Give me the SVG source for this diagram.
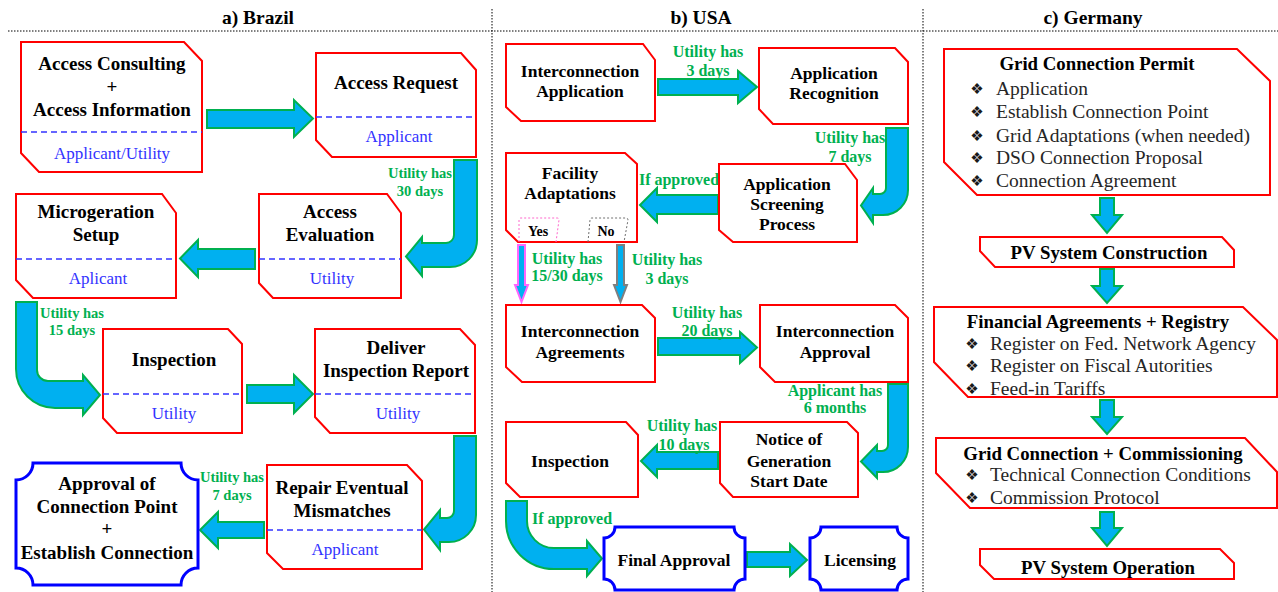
<svg xmlns="http://www.w3.org/2000/svg" width="1278" height="592" viewBox="0 0 1278 592">
<style>
text{font-family:"Liberation Serif","Times New Roman",serif;}
.t{font-weight:bold;font-size:19.5px;fill:#000;text-anchor:middle;}
.nb{font-weight:bold;font-size:19px;fill:#000;text-anchor:middle;}
.nu{font-weight:bold;font-size:17.5px;fill:#000;text-anchor:middle;}
.ng{font-weight:bold;font-size:18.8px;fill:#000;text-anchor:middle;}
.it{font-size:19.5px;fill:#262626;}
.bul{font-family:"DejaVu Sans",sans-serif;font-size:15px;fill:#1a1a1a;text-anchor:middle;}
.role{font-size:17px;fill:#3333ff;text-anchor:middle;}
.gb{font-weight:bold;font-size:14.5px;fill:#00b050;text-anchor:middle;}
.gu{font-weight:bold;font-size:16px;fill:#00b050;text-anchor:middle;}
.yn{font-weight:bold;font-size:14px;fill:#000;text-anchor:middle;}
.box{fill:#fff;stroke:#ff0000;stroke-width:2;stroke-linejoin:miter;}
.bbox{fill:#fff;stroke:#0000ff;stroke-width:3;}
.dash{stroke:#3333ff;stroke-width:1.3;stroke-dasharray:6,4;fill:none;}
.arr{fill:#00b0f0;stroke:#00b050;stroke-width:2;stroke-linejoin:miter;}
.sep{stroke:#000;stroke-width:1;stroke-dasharray:1.5,1.5;fill:none;}
</style>

<g id="separators">
<path class="sep" d="M8,31 H1278"/>
<path class="sep" d="M492,9 V592"/>
<path class="sep" d="M923,9 V592"/>
</g>
<g id="titles">
<text class="t" x="258" y="24">a) Brazil</text>
<text class="t" x="701" y="24">b) USA</text>
<text class="t" x="1093" y="24">c) Germany</text>
</g>

<g id="connectors">
<path class="arr" d="M207,110 H294 V100 L313,118.5 L294,137 V128 H207 Z"/>
<path class="arr" d="M454,160 H477 V240 A27,27 0 0 1 450,267 H422 V276 L406,256.5 L422,237 V243 H446 A8,8 0 0 0 454,235 Z"/>
<path class="arr" d="M255,249 H198 V240 L180,258.5 L198,277 V269 H255 Z"/>
<path class="arr" d="M16,302 H37 V370 A11,11 0 0 0 48,381 H83 V375 L100,395 L83,415 V408 H55 A39,39 0 0 1 16,369 Z"/>
<path class="arr" d="M247,385 H294 V375 L313,394 L294,413 V403 H247 Z"/>
<path class="arr" d="M454,436 H476 V515 A27,27 0 0 1 449,542 H440 V550 L424,529.5 L440,510 V518 H447 A7,7 0 0 0 454,511 Z"/>
<path class="arr" d="M264,522 H218 V512 L200,530 L218,548 V538 H264 Z"/>
<path class="arr" d="M658,79 H738 V71 L757,87 L738,103 V95 H658 Z"/>
<path class="arr" d="M886,128 H908 V190 A25,25 0 0 1 883,215 H873 V223 L861,205.5 L873,188 V194 H880 A6,6 0 0 0 886,188 Z"/>
<path class="arr" d="M718,195 H657 V188 L640,205 L657,222 V214 H718 Z"/>
<path d="M518,245 H525 V285 H528 L521.5,302 L515,285 H518 Z" fill="#00b0f0" stroke="#ff66ff" stroke-width="2"/>
<path d="M617,245 H624 V285 H627 L620.5,302 L614,285 H617 Z" fill="#00b0f0" stroke="#7f7f7f" stroke-width="2"/>
<path class="arr" d="M658,338 H740 V332 L757,347.5 L740,363 V355 H658 Z"/>
<path class="arr" d="M888,384 H908 V447 A25,25 0 0 1 883,472 H877 V478 L861,461.5 L877,445 V451 H882 A6,6 0 0 0 888,445 Z"/>
<path class="arr" d="M718,452 H657 V445 L641,461 L657,477 V469 H718 Z"/>
<path class="arr" d="M506,501 H527 V521 A27,27 0 0 0 554,548 H587 V541 L602,558.5 L587,576 V569 H554 A48,48 0 0 1 506,521 Z"/>
<path class="arr" d="M747,552 H790 V544 L807,560 L790,576 V567 H747 Z"/>
<path class="arr" d="M1100,198 H1114 V215 H1122 L1107,233 L1092,215 H1100 Z"/>
<path class="arr" d="M1100,269 H1114 V286 H1122 L1107,303 L1092,286 H1100 Z"/>
<path class="arr" d="M1100,400 H1114 V417 H1122 L1107,434 L1092,417 H1100 Z"/>
<path class="arr" d="M1100,512 H1114 V528 H1122 L1107,546 L1092,528 H1100 Z"/>
</g>

<g id="connector-labels">
<text class="gb" x="420" y="178">Utility has</text>
<text class="gb" x="420" y="196">30 days</text>
<text class="gb" x="72" y="318">Utility has</text>
<text class="gb" x="72" y="335">15 days</text>
<text class="gb" x="232" y="482">Utility has</text>
<text class="gb" x="232" y="500">7 days</text>
<text class="gu" x="708" y="56.5">Utility has</text>
<text class="gu" x="708" y="75.5">3 days</text>
<text class="gu" x="850" y="142.5">Utility has</text>
<text class="gu" x="850" y="161.5">7 days</text>
<text class="gu" x="679" y="184.5">If approved</text>
<text class="gu" x="567" y="263.5">Utility has</text>
<text class="gu" x="567" y="280.5">15/30 days</text>
<text class="gu" x="667" y="264.5">Utility has</text>
<text class="gu" x="667" y="283.5">3 days</text>
<text class="gu" x="707" y="317.5">Utility has</text>
<text class="gu" x="707" y="335.5">20 days</text>
<text class="gu" x="835" y="395.5">Applicant has</text>
<text class="gu" x="835" y="412.5">6 months</text>
<text class="gu" x="682" y="430.5">Utility has</text>
<text class="gu" x="684" y="449.5">10 days</text>
<text class="gu" x="572" y="523.5">If approved</text>
</g>

<g id="br-access-consulting">
<path class="box" d="M21,42 H184 L202,61 V172 H39 L21,153 Z"/>
<path class="dash" d="M21,132 H202"/>
<text class="nb" x="112" y="70">Access Consulting</text>
<text class="nb" x="112" y="93">+</text>
<text class="nb" x="112" y="116">Access Information</text>
<text class="role" x="112" y="159">Applicant/Utility</text>
</g>
<g id="br-access-request">
<path class="box" d="M316,53 H461 L476,70 V157 H332 L316,140 Z"/>
<path class="dash" d="M316,117 H476"/>
<text class="nb" x="396" y="88.5">Access Request</text>
<text class="role" x="399" y="142">Applicant</text>
</g>
<g id="br-microgeration">
<path class="box" d="M16,194 H162 L176,213 V298 H33 L16,280 Z"/>
<path class="dash" d="M16,259 H176"/>
<text class="nb" x="96" y="217.5">Microgeration</text>
<text class="nb" x="96" y="240.5">Setup</text>
<text class="role" x="98" y="284">Aplicant</text>
</g>
<g id="br-access-evaluation">
<path class="box" d="M259,194 H387 L401,213 V298 H273 L259,283 Z"/>
<path class="dash" d="M259,259 H401"/>
<text class="nb" x="330" y="217.5">Access</text>
<text class="nb" x="330" y="241">Evaluation</text>
<text class="role" x="332" y="284">Utility</text>
</g>
<g id="br-inspection">
<path class="box" d="M103,329 H228 L242,344 V433 H117 L103,418 Z"/>
<path class="dash" d="M103,394 H242"/>
<text class="nb" x="174" y="365.5">Inspection</text>
<text class="role" x="174" y="419">Utility</text>
</g>
<g id="br-deliver">
<path class="box" d="M315,329 H460 L475,345 V433 H330 L315,417 Z"/>
<path class="dash" d="M315,394 H475"/>
<text class="nb" x="396" y="353.5">Deliver</text>
<text class="nb" x="396" y="376.5">Inspection Report</text>
<text class="role" x="398" y="419">Utility</text>
</g>
<g id="br-repair">
<path class="box" d="M267,465 H407 L422,481 V569 H283 L267,553 Z"/>
<path class="dash" d="M267,530 H422"/>
<text class="nb" x="342" y="493.5">Repair Eventual</text>
<text class="nb" x="342" y="516.5">Mismatches</text>
<text class="role" x="345" y="555">Applicant</text>
</g>
<g id="br-approval">
<path class="bbox" d="M33,463 H181 A17,17 0 0 0 198,480 V568 A17,17 0 0 0 181,585 H33 A17,17 0 0 0 16,568 V480 A17,17 0 0 0 33,463 Z"/>
<text class="nb" x="107" y="489.5">Approval of</text>
<text class="nb" x="107" y="512.5">Connection Point</text>
<text class="nb" x="107" y="534.5">+</text>
<text class="nb" x="107" y="558.5">Establish Connection</text>
</g>

<g id="us-application">
<path class="box" d="M506,44 H643 L655,60 V121 H521 L506,107 Z"/>
<text class="nu" x="580" y="77">Interconnection</text>
<text class="nu" x="580" y="97">Application</text>
</g>
<g id="us-recognition">
<path class="box" d="M759,48 H895 L908,62 V124 H773 L759,109 Z"/>
<text class="nu" x="834" y="79">Application</text>
<text class="nu" x="834" y="99">Recognition</text>
</g>
<g id="us-facility">
<path class="box" d="M506,153 H625 L637,164 V242 H518 L506,230 Z"/>
<text class="nu" x="570" y="179">Facility</text>
<text class="nu" x="570" y="199">Adaptations</text>
<path d="M519,242 V220 Q519,218 521,218 H557 Q559,218 559,220 L556,242" fill="none" stroke="#ff66cc" stroke-width="1" stroke-dasharray="2,2"/>
<path d="M588,242 L590,220 Q590,218 592,218 H626 Q628,218 628,220 L624,242" fill="none" stroke="#707070" stroke-width="1" stroke-dasharray="2,2"/>
<text class="yn" x="538" y="236">Yes</text>
<text class="yn" x="606" y="236">No</text>
</g>
<g id="us-screening">
<path class="box" d="M719,164 H845 L857,180 V242 H733 L719,230 Z"/>
<text class="nu" x="787" y="190">Application</text>
<text class="nu" x="787" y="210">Screening</text>
<text class="nu" x="787" y="230">Process</text>
</g>
<g id="us-agreements">
<path class="box" d="M506,305 H642 L655,318 V382 H522 L506,367 Z"/>
<text class="nu" x="580" y="337">Interconnection</text>
<text class="nu" x="580" y="358">Agreements</text>
</g>
<g id="us-approval">
<path class="box" d="M760,305 H895 L908,318 V382 H775 L760,367 Z"/>
<text class="nu" x="835" y="337">Interconnection</text>
<text class="nu" x="835" y="358">Approval</text>
</g>
<g id="us-notice">
<path class="box" d="M720,422 H847 L858,433 V497 H733 L720,483 Z"/>
<text class="nu" x="789" y="445">Notice of</text>
<text class="nu" x="789" y="467">Generation</text>
<text class="nu" x="789" y="487">Start Date</text>
</g>
<g id="us-inspection">
<path class="box" d="M506,422 H626 L638,435 V497 H520 L506,483 Z"/>
<text class="nu" x="570" y="467">Inspection</text>
</g>
<g id="us-final-approval">
<path class="bbox" d="M615,527 H734 A11,11 0 0 0 745,538 V579 A11,11 0 0 0 734,590 H615 A11,11 0 0 0 604,579 V538 A11,11 0 0 0 615,527 Z"/>
<text class="nu" x="674" y="566">Final Approval</text>
</g>
<g id="us-licensing">
<path class="bbox" d="M821,527 H897 A11,11 0 0 0 908,538 V579 A11,11 0 0 0 897,590 H821 A11,11 0 0 0 810,579 V538 A11,11 0 0 0 821,527 Z"/>
<text class="nu" x="860" y="566">Licensing</text>
</g>

<g id="de-permit">
<path class="box" d="M944,49 H1237 L1270,81 V195 H977 L944,162 Z"/>
<text class="ng" x="1097" y="70">Grid Connection Permit</text>
<text class="bul" x="977" y="94">❖︎</text><text class="it" x="996" y="94.5">Application</text>
<text class="bul" x="977" y="117">❖︎</text><text class="it" x="996" y="117.5">Establish Connection Point</text>
<text class="bul" x="977" y="141">❖︎</text><text class="it" x="996" y="141.5">Grid Adaptations (when needed)</text>
<text class="bul" x="977" y="163">❖︎</text><text class="it" x="996" y="163.5">DSO Connection Proposal</text>
<text class="bul" x="977" y="186">❖︎</text><text class="it" x="996" y="186.5">Connection Agreement</text>
</g>
<g id="de-construction">
<path class="box" d="M980,237 H1222 L1234,250 V267 H995 L980,251 Z"/>
<text class="ng" x="1109" y="258.5">PV System Construction</text>
</g>
<g id="de-financial">
<path class="box" d="M934,307 H1243 L1277,340 V397 H968 L934,362 Z"/>
<text class="ng" x="1098" y="327.5">Financial Agreements + Registry</text>
<text class="bul" x="972" y="349">❖︎</text><text class="it" x="990" y="349.5">Register on Fed. Network Agency</text>
<text class="bul" x="972" y="371">❖︎</text><text class="it" x="990" y="371.5">Register on Fiscal Autorities</text>
<text class="bul" x="972" y="394">❖︎</text><text class="it" x="990" y="394.5">Feed-in Tariffs</text>
</g>
<g id="de-commissioning">
<path class="box" d="M936,438 H1245 L1277,472 V508 H970 L936,473 Z"/>
<text class="ng" x="1103" y="459.5">Grid Connection + Commissioning</text>
<text class="bul" x="972" y="480">❖︎</text><text class="it" x="990" y="480.5">Technical Connection Conditions</text>
<text class="bul" x="972" y="503">❖︎</text><text class="it" x="990" y="503.5">Commission Protocol</text>
</g>
<g id="de-operation">
<path class="box" d="M980,549 H1220 L1234,563 V579 H994 L980,565 Z"/>
<text class="ng" x="1108" y="573.5">PV System Operation</text>
</g>
</svg>
